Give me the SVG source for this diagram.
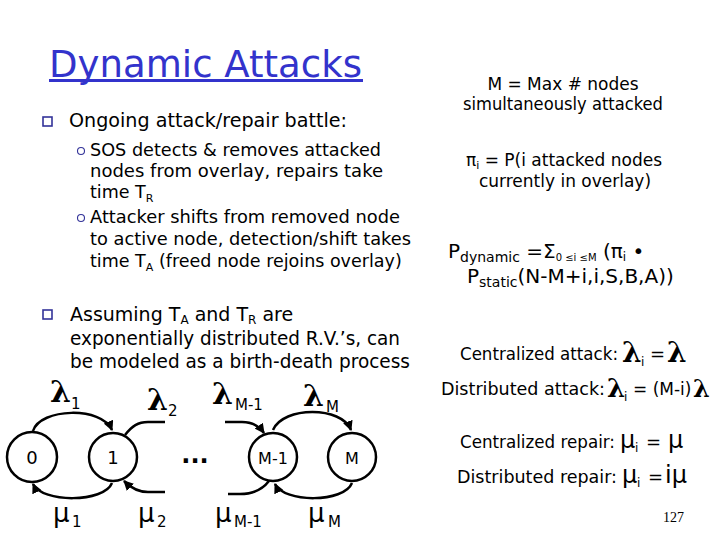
<svg xmlns="http://www.w3.org/2000/svg" width="720" height="540" viewBox="0 0 720 540">
<style>
.t{font-family:"DejaVu Sans","Liberation Sans",sans-serif;fill:#000}
.title{font-family:"DejaVu Sans","Liberation Sans",sans-serif;fill:#3333cc;font-size:38px}
.b1{font-size:19px}
.b2{font-size:17.5px}
.r{font-size:17px}
.sym{font-family:"DejaVu Serif","Liberation Serif",serif;font-weight:bold;fill:#000}
.mu{font-family:"DejaVu Sans","Liberation Sans",sans-serif;fill:#000}
.node{fill:#fff;stroke:#000;stroke-width:2.5}
.edge{fill:none;stroke:#000;stroke-width:2.5}
.sq{fill:#fff;stroke:#333399;stroke-width:1.6}
.ci{fill:none;stroke:#333399;stroke-width:1.1}
</style>
<defs>
<marker id="ah" markerUnits="userSpaceOnUse" markerWidth="10" markerHeight="10" refX="9" refY="5" orient="auto" viewBox="0 0 10 10">
<path d="M0,0 L10,5 L0,10 z" fill="#000"/>
</marker>
</defs>
<rect width="720" height="540" fill="#fff"/>

<!-- title -->
<text class="title" x="49" y="77" textLength="313" lengthAdjust="spacingAndGlyphs">Dynamic Attacks</text>
<rect x="49" y="79" width="314" height="3" fill="#3333cc"/>

<!-- bullets left -->
<rect class="sq" x="43" y="117" width="9" height="9"/>
<text class="t b1" x="69" y="127" textLength="278" lengthAdjust="spacingAndGlyphs">Ongoing attack/repair battle:</text>
<circle class="ci" cx="81" cy="151" r="3.5"/>
<text class="t b2" x="90" y="156" textLength="291" lengthAdjust="spacingAndGlyphs">SOS detects &amp; removes attacked</text>
<text class="t b2" x="90" y="177" textLength="293" lengthAdjust="spacingAndGlyphs">nodes from overlay, repairs take</text>
<text class="t b2" x="90" y="198">time T<tspan font-size="11" dy="4">R</tspan></text>
<circle class="ci" cx="81" cy="218" r="3.5"/>
<text class="t b2" x="90" y="223" textLength="310" lengthAdjust="spacingAndGlyphs">Attacker shifts from removed node</text>
<text class="t b2" x="90" y="245" textLength="321" lengthAdjust="spacingAndGlyphs">to active node, detection/shift takes</text>
<text class="t b2" x="90" y="267">time T<tspan font-size="11" dy="4">A</tspan><tspan dy="-4"> (freed node rejoins overlay)</tspan></text>

<rect class="sq" x="43" y="310" width="9" height="9"/>
<text class="t b1" x="70" y="321">Assuming T<tspan font-size="12" dy="3">A</tspan><tspan dy="-3"> and T</tspan><tspan font-size="12" dy="3">R</tspan><tspan dy="-3"> are</tspan></text>
<text class="t b1" x="70" y="345" textLength="330" lengthAdjust="spacingAndGlyphs">exponentially distributed R.V.’s, can</text>
<text class="t b1" x="70" y="368" textLength="340" lengthAdjust="spacingAndGlyphs">be modeled as a birth-death process</text>

<!-- right texts -->
<text class="t r" x="563" y="90" text-anchor="middle">M = Max # nodes</text>
<text class="t r" x="563" y="110" text-anchor="middle" textLength="200" lengthAdjust="spacingAndGlyphs">simultaneously attacked</text>
<text class="t r" x="564" y="166" text-anchor="middle">π<tspan font-size="11" dy="3">i</tspan><tspan dy="-3"> = P(i attacked nodes</tspan></text>
<text class="t r" x="565" y="187" text-anchor="middle">currently in overlay)</text>

<text class="t" x="448" y="258" font-size="20">P<tspan font-size="14" dy="4">dynamic</tspan><tspan dy="-4"> =Σ</tspan><tspan font-size="10" dy="3">0 ≤i ≤M</tspan><tspan dy="-3"> (π</tspan><tspan font-size="12" dy="3">i</tspan><tspan dy="-3"> •</tspan></text>
<text class="t" x="467" y="283" font-size="20">P<tspan font-size="14" dy="4">static</tspan><tspan dy="-4">(N-M+i,i,S,B,A))</tspan></text>

<text class="t r" x="460" y="360" textLength="158" lengthAdjust="spacingAndGlyphs">Centralized attack:</text>
<text class="sym" x="622" y="362" font-size="28">λ</text>
<text class="t" x="641" y="366" font-size="12">i</text>
<text class="t" x="650" y="360" font-size="18">=</text>
<text class="sym" x="667" y="362" font-size="28">λ</text>

<text class="t r" x="441" y="395" textLength="164" lengthAdjust="spacingAndGlyphs">Distributed attack:</text>
<text class="sym" x="607" y="397" font-size="26">λ</text>
<text class="t" x="624" y="401" font-size="12">i</text>
<text class="t" x="633" y="395" font-size="17">= (M-i)</text>
<text class="sym" x="693" y="397" font-size="24">λ</text>

<text class="t r" x="460" y="448" textLength="155" lengthAdjust="spacingAndGlyphs">Centralized repair:</text>
<text class="mu" x="620" y="448" font-size="24">μ</text>
<text class="t" x="635" y="452" font-size="12">i</text>
<text class="t" x="646" y="448" font-size="18">=</text>
<text class="mu" x="668" y="448" font-size="24">μ</text>

<text class="t r" x="457" y="483" textLength="160" lengthAdjust="spacingAndGlyphs">Distributed repair:</text>
<text class="mu" x="622" y="483" font-size="24">μ</text>
<text class="t" x="637" y="487" font-size="12">i</text>
<text class="t" x="648" y="483" font-size="18">=</text>
<text class="mu" x="665" y="483" font-size="24">iμ</text>

<text x="663" y="522" font-family="Liberation Serif,serif" font-size="14" fill="#000">127</text>

<!-- connectors -->
<g id="connectors">
<path class="edge" d="M33 431 C40 408 102 406 112 430" marker-end="url(#ah)"/>
<path class="edge" d="M112 483 C104 503 42 503 33 484" marker-end="url(#ah)"/>
<path class="edge" d="M125 435 C132 426 138 422 148 422 L165 422"/>
<path class="edge" d="M165 492 L148 492 C138 492 131 488 124 481" marker-end="url(#ah)"/>
<path class="edge" d="M225 422 L242 422 C252 422 259 426 264 433" marker-end="url(#ah)"/>
<path class="edge" d="M269 481 C262 490 252 494 240 494 L228 494"/>
<path class="edge" d="M273 430 C283 406 342 406 351 430" marker-end="url(#ah)"/>
<path class="edge" d="M352 483 C344 503 284 503 275 484" marker-end="url(#ah)"/>
</g>

<!-- nodes -->
<g id="node-0"><circle class="node" cx="32" cy="457" r="25"/><text class="t" x="32" y="464" font-size="18" text-anchor="middle">0</text></g>
<g id="node-1"><circle class="node" cx="113" cy="457" r="24"/><text class="t" x="113" y="464" font-size="18" text-anchor="middle">1</text></g>
<g id="node-M-1"><circle class="node" cx="273" cy="457" r="24"/><text class="t" x="273" y="464" font-size="16" text-anchor="middle">M-1</text></g>
<g id="node-M"><circle class="node" cx="352" cy="457" r="24"/><text class="t" x="352" y="464" font-size="16" text-anchor="middle">M</text></g>

<text class="t" x="195" y="463" font-size="24" font-weight="bold" text-anchor="middle">...</text>

<!-- edge labels -->
<g id="edge-labels">
<text class="sym" x="50" y="402" font-size="30">λ</text><text class="t" x="71" y="409" font-size="15">1</text>
<text class="sym" x="147" y="410" font-size="30">λ</text><text class="t" x="168" y="416" font-size="15">2</text>
<text class="sym" x="212" y="404" font-size="30">λ</text><text class="t" x="235" y="410" font-size="15">M-1</text>
<text class="sym" x="303" y="406" font-size="30">λ</text><text class="t" x="326" y="412" font-size="15">M</text>
<text class="mu" x="53" y="522" font-size="26">μ</text><text class="t" x="72" y="527" font-size="15">1</text>
<text class="mu" x="138" y="522" font-size="26">μ</text><text class="t" x="157" y="527" font-size="15">2</text>
<text class="mu" x="215" y="522" font-size="26">μ</text><text class="t" x="234" y="527" font-size="15">M-1</text>
<text class="mu" x="308" y="522" font-size="26">μ</text><text class="t" x="328" y="527" font-size="15">M</text>
</g>
</svg>
